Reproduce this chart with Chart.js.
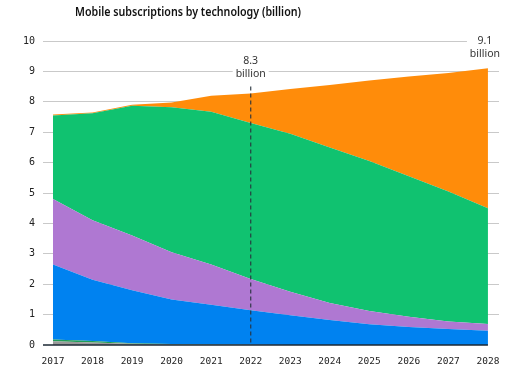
<!DOCTYPE html>
<html>
<head>
<meta charset="utf-8">
<script src="https://cdn.jsdelivr.net/npm/chart.js@4/dist/chart.umd.min.js"></script>
<style>
  html, body { margin: 0; padding: 0; background: #fff; }
  #wrap { width: 512px; height: 370px; }
</style>
</head>
<body>
<div id="wrap"><canvas id="mainChart" width="512" height="370"></canvas></div>
<script>
// anni sull'asse x
const years = [2017, 2018, 2019, 2020, 2021, 2022, 2023, 2024, 2025, 2026, 2027, 2028]

// abbonamenti per tecnologia (miliardi), dal basso verso l'alto
const other = [0.12, 0.08, 0.04, 0.02, 0.01, 0.01, 0, 0, 0, 0, 0, 0]
const tdscdma = [0.06, 0.05, 0.02, 0.01, 0.01, 0, 0, 0, 0, 0, 0, 0]
const gsm = [2.47, 2.02, 1.74, 1.47, 1.3, 1.13, 0.98, 0.82, 0.68, 0.59, 0.53, 0.47]
const wcdma = [2.15, 1.95, 1.8, 1.55, 1.33, 1.03, 0.77, 0.56, 0.44, 0.34, 0.24, 0.22]
const lte = [2.75, 3.52, 4.27, 4.77, 5.02, 5.13, 5.2, 5.12, 4.93, 4.62, 4.28, 3.81]
const nr5g = [0.03, 0.03, 0.03, 0.16, 0.53, 0.97, 1.47, 2.05, 2.65, 3.28, 3.9, 4.6]

const yTicks = [0, 1, 2, 3, 4, 5, 6, 7, 8, 9, 10]

const callouts = [
  { year: 2022, lines: [`8.3`, `billion`], dashed: true },
  { year: 2028, lines: [`9.1`, `billion`], dashed: false },
]

const toPoints = (arr) => arr.map((v, i) => ({ x: years[i], y: v }))

const layer = (label, data, color, fill) => ({
  label: label,
  data: toPoints(data),
  backgroundColor: color,
  borderWidth: 0,
  pointRadius: 0,
  tension: 0,
  fill: fill,
})

// titolo, asse x scuro + etichette "billion" con la linea tratteggiata
const notesPlugin = {
  id: `notes`,
  afterDraw(chart) {
    const ctx = chart.ctx
    const xs = chart.scales.x
    const ys = chart.scales.y
    ctx.save()

    // linea base (dal tick a sinistra fino all'ultimo anno)
    const y0 = ys.getPixelForValue(0)
    ctx.strokeStyle = `#1b2733`
    ctx.lineWidth = 1.5
    ctx.beginPath()
    ctx.moveTo(chart.chartArea.left - 10, y0)
    ctx.lineTo(xs.getPixelForValue(years[years.length - 1]), y0)
    ctx.stroke()

    ctx.fillStyle = `#111`
    ctx.font = `600 13px "Noto Sans"`
    ctx.textAlign = `left`
    ctx.textBaseline = `alphabetic`
    ctx.fillText(`Mobile subscriptions by technology (billion)`, 75, 16, 226)

    ctx.font = `10.5px "Noto Sans"`
    ctx.textAlign = `center`
    ctx.textBaseline = `middle`
    callouts.forEach((c) => {
      const x = xs.getPixelForValue(c.year)
      const top = c.dashed ? ys.getPixelForValue(9) - 15 : ys.getPixelForValue(10) - 5
      const cx = c.dashed ? x : x - 3
      ctx.fillStyle = `#fff`
      ctx.fillRect(cx - 18, top - 2, 36, 28)
      ctx.fillStyle = `#333`
      ctx.fillText(c.lines[0], cx, top + 5)
      ctx.fillText(c.lines[1], cx, top + 18)
      if (c.dashed) {
        ctx.strokeStyle = `rgba(40, 50, 60, 0.85)`
        ctx.lineWidth = 1.3
        ctx.setLineDash([4, 3])
        ctx.beginPath()
        ctx.moveTo(x, top + 30)
        ctx.lineTo(x, y0)
        ctx.stroke()
        ctx.setLineDash([])
      }
    })
    ctx.restore()
  },
}

const chart = document.getElementById(`mainChart`)

new Chart(chart, {
  type: `line`,
  data: {
    datasets: [
      layer(`Other`, other, `#9a9a9a`, `origin`),
      layer(`TD-SCDMA`, tdscdma, `#1f9e58`, `-1`),
      layer(`GSM/EDGE-only`, gsm, `#0082f0`, `-1`),
      layer(`WCDMA/HSPA`, wcdma, `#af78d2`, `-1`),
      layer(`LTE`, lte, `#10c270`, `-1`),
      layer(`5G`, nr5g, `#ff8c0a`, `-1`),
    ],
  },
  options: {
    responsive: false,
    animation: false,
    layout: { padding: { top: 41, right: 13, left: 0, bottom: 0 } },
    plugins: {
      legend: { display: false },
      tooltip: { enabled: false },
    },
    scales: {
      x: {
        type: `linear`,
        min: 2017,
        max: 2028.28,
        afterBuildTicks: (axis) => {
          axis.ticks = years.map((v) => ({ value: v }))
        },
        afterFit: (axis) => {
          axis.height = 25
        },
        grid: { display: false },
        border: { display: false },
        ticks: {
          padding: 3,
          maxRotation: 0,
          autoSkip: false,
          color: `#222`,
          font: { family: `"DejaVu Sans Mono"`, size: 9.5 },
          callback: (v) => String(v),
        },
      },
      y: {
        stacked: true,
        min: 0,
        max: 10,
        afterBuildTicks: (axis) => {
          axis.ticks = yTicks.map((v) => ({ value: v }))
        },
        afterFit: (axis) => {
          axis.width = 53
        },
        grid: {
          color: (c) => (c.tick && c.tick.value === 0 ? `rgba(0,0,0,0)` : `#c9c9c9`),
          lineWidth: 1,
          tickLength: 10,
        },
        border: { display: false },
        ticks: {
          padding: 8,
          color: `#222`,
          font: { family: `"DejaVu Sans Mono"`, size: 10 },
        },
      },
    },
  },
  plugins: [notesPlugin],
})
</script>
</body>
</html>
